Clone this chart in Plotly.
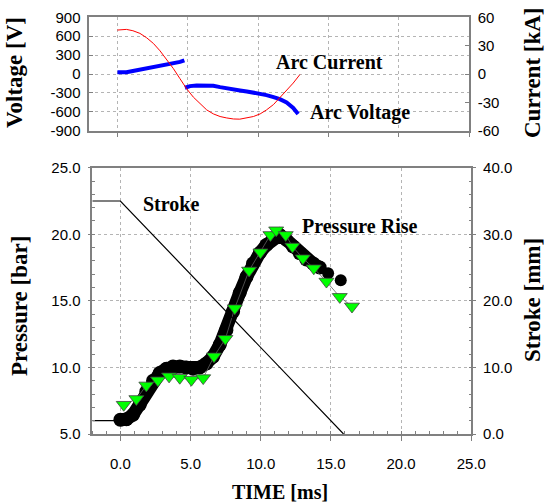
import plotly.graph_objects as go

W, H = 546, 504

# top panel: arc current / arc voltage
cur_t = [0.0, 0.64, 1.1, 1.6, 2.08, 2.56, 3.03, 3.5, 3.98, 4.45, 4.92, 5.4, 5.87, 6.35,
         6.82, 7.3, 7.77, 8.25, 8.7, 9.2, 9.67, 10.15, 10.6, 11.1, 11.55, 12.03, 12.5, 12.97]
cur_ka = [46.5, 47.2, 45.8, 43.0, 38.3, 32.3, 24.5, 15.3, 5.7, -5.0, -15.6, -24.5, -31.6, -38.0,
          -42.2, -45.0, -46.5, -47.6, -47.8, -46.5, -45.0, -42.2, -38.0, -32.3, -25.2, -17.4, -9.6, -0.7]

volt_t = [0.0, 0.64, 1.1, 1.6, 2.08, 2.56, 3.03, 3.5, 3.98, 4.45, 4.76, None,
          4.8, 5.16, 5.63, 6.35, 6.82, 7.3, 7.77, 8.25, 8.72, 9.2, 9.67, 10.15, 10.6,
          11.1, 11.55, 12.03, 12.5, 12.85]
volt_v = [27, 27, 48, 69, 85, 101, 123, 139, 165, 192, 218, None,
          -218, -192, -181, -176, -186, -208, -229, -245, -261, -277, -293, -314, -335,
          -367, -399, -453, -538, -634]

# bottom panel: pressure, calculated pressure rise, stroke
press_t = [0.0, 0.43, 0.9, 1.38, 1.85, 2.33, 2.8, 3.28, 3.75, 4.23, 4.7, 5.18, 5.65, 6.13,
           6.6, 7.08, 7.55, 8.03, 8.5, 8.98, 9.45, 9.93, 10.4, 10.88, 11.35, 11.83, 12.3,
           12.78, 13.25, 13.73, 14.2]
press_p = [6.07, 6.1, 6.45, 7.2, 8.2, 9.0, 9.58, 9.9, 10.07, 10.07, 10.0, 9.9, 10.0, 10.3,
           10.8, 11.7, 12.8, 14.2, 15.6, 16.8, 17.8, 18.6, 19.2, 19.7, 19.95, 19.58, 19.08,
           18.58, 18.1, 17.8, 17.5]
press_tail_t = [14.8, 15.7]
press_tail_p = [17.08, 16.55]
base_t = [-2.0, 0.0]
base_p = [6.0, 6.0]

rise_t = [0.24, 1.14, 1.85, 2.68, 3.47, 4.23, 5.06, 5.9, 6.67, 7.48, 8.15, 9.17, 9.98,
          10.69, 11.1, 11.78, 12.26, 13.0, 13.78, 14.68, 15.63, 16.5]
rise_p = [7.2, 7.63, 8.65, 9.03, 9.33, 9.23, 9.08, 9.2, 10.83, 12.15, 14.45, 17.28, 18.65,
          19.95, 20.3, 19.95, 19.08, 18.2, 17.45, 16.45, 15.3, 14.58]

stroke_t = [-2.0, 0.0, 15.9]
stroke_mm = [35.0, 35.0, 0.0]

volt_ticks = [900, 600, 300, 0, -300, -600, -900]
cur_ticks = [60, 30, 0, -30, -60]
time_ticks = [0, 5, 10, 15, 20, 25]
press_ticks = [5, 10, 15, 20, 25]
stroke_ticks = [0, 10, 20, 30, 40]

SANS = "Liberation Sans"
SERIF = "Liberation Serif"
AXC = "#808080"
GRID = "#b4b4b4"


def px(x):
    return x / W


def py(y):
    return 1 - y / H


fig = go.Figure()

fig.add_trace(go.Scatter(x=cur_t, y=cur_ka, mode="lines", line=dict(color="#ff0000", width=1),
                         xaxis="x", yaxis="y2"))
fig.add_trace(go.Scatter(x=volt_t, y=volt_v, mode="lines", line=dict(color="#0000ff", width=4),
                         xaxis="x", yaxis="y"))

fig.add_trace(go.Scatter(x=stroke_t, y=stroke_mm, mode="lines", line=dict(color="black", width=1.2),
                         xaxis="x2", yaxis="y4"))
fig.add_trace(go.Scatter(x=base_t, y=base_p, mode="lines", line=dict(color="black", width=1.2),
                         xaxis="x2", yaxis="y3"))
fig.add_trace(go.Scatter(x=press_t, y=press_p, mode="lines+markers",
                         line=dict(color="black", width=13),
                         marker=dict(symbol="circle", size=14, color="black"),
                         xaxis="x2", yaxis="y3"))
fig.add_trace(go.Scatter(x=press_tail_t, y=press_tail_p, mode="markers",
                         marker=dict(symbol="circle", size=12, color="black"),
                         xaxis="x2", yaxis="y3"))
fig.add_trace(go.Scatter(x=rise_t, y=rise_p, mode="lines+markers",
                         line=dict(color="#606060", width=0.8),
                         marker=dict(symbol="triangle-down", size=13, color="#00ff00",
                                     line=dict(color="#404040", width=0.8)),
                         xaxis="x2", yaxis="y3"))

tickfont = dict(family=SANS, size=15, color="black")
common = dict(showline=True, linecolor=AXC, linewidth=1.5, zeroline=False, automargin=False,
              tickfont=tickfont, tickcolor=AXC, gridcolor=GRID, griddash="dot", gridwidth=1)

fig.update_layout(
    width=W, height=H,
    margin=dict(l=0, r=0, t=0, b=0),
    paper_bgcolor="white", plot_bgcolor="white",
    showlegend=False,
    xaxis=dict(domain=[px(89.3), px(469)], range=[-2, 25], tickvals=time_ticks,
               showticklabels=False, ticks="outside", ticklen=5, showgrid=True, mirror=True,
               anchor="y", **common),
    yaxis=dict(domain=[py(130.7), py(17.3)], range=[-900, 900], tickvals=volt_ticks,
               ticktext=[str(v) for v in volt_ticks], ticks="inside", ticklen=4,
               ticklabelstandoff=4, showgrid=True, anchor="x", **common),
    yaxis2=dict(range=[-60, 60], tickvals=cur_ticks, ticktext=[str(v) for v in cur_ticks],
                overlaying="y", side="right", anchor="x", ticks="inside", ticklen=4,
                ticklabelstandoff=4, showgrid=False, **common),
    xaxis2=dict(domain=[px(92.3), px(471.3)], range=[-2, 25], tickvals=time_ticks,
                ticktext=["%.1f" % v for v in time_ticks], ticks="outside", ticklen=5,
                ticklabelstandoff=10, showgrid=True, mirror=True, anchor="y3",
                minor=dict(dtick=1, ticks="inside", ticklen=3, tickcolor=AXC, showgrid=False),
                **common),
    yaxis3=dict(domain=[py(434), py(167.7)], range=[5, 25], tickvals=press_ticks,
                ticktext=["%.1f" % v for v in press_ticks], ticks="outside", ticklen=3,
                ticklabelstandoff=4, showgrid=True, anchor="x2",
                minor=dict(dtick=1, ticks="inside", ticklen=3, tickcolor=AXC, showgrid=False),
                **common),
    yaxis4=dict(range=[0, 40], tickvals=stroke_ticks, ticktext=["%.1f" % v for v in stroke_ticks],
                overlaying="y3", side="right", anchor="x2", ticks="outside", ticklen=3,
                ticklabelstandoff=4, showgrid=False,
                minor=dict(dtick=2, ticks="inside", ticklen=3, tickcolor=AXC, showgrid=False),
                **common),
)

title_font = dict(family=SERIF, size=23, color="black", weight="bold")
label_font = dict(family=SERIF, size=20, color="black", weight="bold")
notes = [
    ("Voltage [V]", 14, 73, -90, title_font),
    ("Current [kA]", 532, 73, -90, title_font),
    ("Pressure [bar]", 19, 306, -90, title_font),
    ("Stroke [mm]", 532, 300, -90, title_font),
    ("TIME [ms]", 280, 492, 0, dict(title_font, size=20)),
    ("Arc Current", 329, 62, 0, label_font),
    ("Arc Voltage", 360, 112, 0, label_font),
    ("Stroke", 171, 204, 0, label_font),
    ("Pressure Rise", 359, 226, 0, label_font),
]
for text, x, y, ang, font in notes:
    fig.add_annotation(text=text, x=px(x), y=py(y), xref="paper", yref="paper",
                       xanchor="center", yanchor="middle", showarrow=False,
                       textangle=ang, font=font)

# page body has a default 8px margin; drop it so the figure fills the window
fig.write_html("out.html", config={"displayModeBar": False},
               post_script="document.body.style.margin='0px';")
